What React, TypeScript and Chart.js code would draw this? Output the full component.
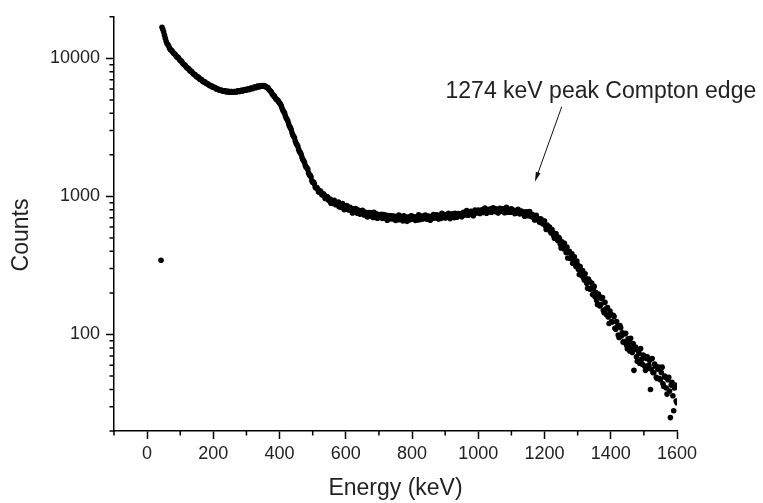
import { useEffect, useRef } from "react";
import { Chart, registerables } from "chart.js";

Chart.register(...registerables);

// Gamma spectrum: counts per channel, channels 2.5 keV wide starting at 45 keV
const CHANNEL_KEV_START = 45;
const CHANNEL_KEV_WIDTH = 2.5;

// one row per 100 keV (40 channels)
const COUNTS = [
  16800, 16200, 15500, 14700, 14000, 13300, 12800, 12600, 12300, 11900, 11600, 11500, 11350, 11100, 10900, 10800, 10650, 10400, 10250, 10200,
  10050, 9800, 9650, 9600, 9450, 9200, 9050, 9000, 8900, 8700, 8550, 8520, 8450, 8250, 8100, 8080, 8000, 7820, 7700, 7680,
  7600, 7450, 7350, 7340, 7280, 7130, 7050, 7040, 6980, 6840, 6760, 6770, 6730, 6600, 6540, 6550, 6500, 6390, 6340, 6350,
  6310, 6200, 6160, 6180, 6150, 6040, 5990, 6010, 5980, 5900, 5870, 5900, 5880, 5800, 5780, 5820, 5810, 5740, 5730, 5770,
  5770, 5700, 5690, 5750, 5740, 5680, 5690, 5760, 5760, 5700, 5720, 5800, 5810, 5750, 5770, 5850, 5860, 5800, 5830, 5920,
  5940, 5870, 5890, 5990, 6000, 5940, 5970, 6080, 6090, 6030, 6070, 6180, 6190, 6130, 6180, 6280, 6290, 6220, 6260, 6340,
  6350, 6280, 6290, 6360, 6330, 6230, 6190, 6180, 6110, 5980, 5870, 5800, 5710, 5540, 5420, 5370, 5280, 5140, 5050, 5020,
  4960, 4830, 4750, 4660, 4530, 4350, 4200, 4120, 4010, 3830, 3700, 3620, 3510, 3340, 3220, 3150, 3050, 2890, 2780, 2730,
  2650, 2510, 2420, 2380, 2310, 2190, 2110, 2080, 2020, 1920, 1850, 1820, 1770, 1680, 1630, 1610, 1570, 1480, 1430, 1420,
  1380, 1300, 1260, 1270, 1235, 1170, 1150, 1160, 1130, 1080, 1070, 1100, 1075, 1030, 1025, 1045, 1020, 965, 975, 1000,
  989, 941, 936, 958, 893, 926, 933, 889, 938, 905, 872, 898, 878, 912, 840, 869, 865, 832, 888, 851,
  803, 842, 820, 858, 845, 800, 796, 833, 821, 786, 758, 812, 799, 770, 816, 779, 756, 797, 773, 745,
  752, 781, 792, 748, 734, 770, 760, 731, 710, 757, 765, 722, 739, 760, 728, 704, 768, 741, 712, 750,
  695, 729, 735, 703, 725, 741, 694, 718, 740, 697, 703, 731, 673, 708, 727, 690, 718, 723, 688, 712,
  721, 686, 671, 712, 705, 679, 732, 701, 682, 716, 688, 665, 723, 695, 674, 710, 660, 699, 709, 678,
  696, 724, 718, 683, 684, 711, 671, 690, 707, 676, 736, 702, 681, 719, 717, 686, 697, 725, 733, 692,
  685, 712, 721, 690, 673, 716, 717, 695, 739, 708, 698, 725, 735, 701, 686, 720, 717, 694, 754, 722,
  713, 738, 699, 727, 737, 703, 754, 731, 691, 719, 736, 748, 716, 702, 755, 733, 706, 741, 753, 727,
  747, 726, 713, 752, 768, 737, 734, 765, 790, 748, 732, 769, 758, 781, 776, 745, 726, 772, 798, 760,
  762, 788, 796, 757, 753, 790, 787, 805, 766, 774, 823, 788, 755, 801, 804, 772, 790, 812, 768, 798,
  826, 784, 779, 812, 804, 770, 757, 805, 821, 783, 789, 815, 812, 771, 763, 801, 834, 790, 768, 806,
  790, 768, 812, 782, 769, 795, 751, 780, 787, 760, 806, 775, 748, 778, 782, 752, 754, 771, 719, 748,
  775, 741, 724, 756, 776, 730, 716, 741, 729, 701, 676, 715, 729, 688, 689, 668, 649, 690, 682, 645,
  634, 662, 663, 612, 577, 620, 608, 575, 601, 560, 543, 575, 547, 520, 498, 538, 536, 495, 479, 505,
  496, 452, 424, 470, 449, 418, 458, 426, 392, 430, 358, 395, 401, 356, 363, 384, 328, 349, 365, 322,
  311, 341, 320, 296, 272, 310, 293, 268, 291, 259, 248, 275, 253, 235, 216, 252, 244, 213, 217, 236,
  195, 214, 223, 188, 201, 176, 165, 196, 190, 161, 165, 182, 185, 150, 144, 171, 153, 139, 157, 134,
  120, 148, 140, 124, 123, 138, 135, 111, 109, 124, 114, 99, 95, 116, 112, 98, 103, 88, 89, 101,
  102, 84, 79, 93, 88, 76, 94, 82, 74, 86, 55, 78, 81, 69, 64, 77, 73, 62, 79, 66,
  61, 71, 70, 59, 55, 67, 69, 57, 60, 65, 40, 56, 67, 53, 53, 61, 59, 49, 48, 56,
  58, 48, 47, 53, 58, 44, 42, 50, 49, 41, 37, 47, 49, 39, 25, 43, 45, 36, 28, 41,
  43, 33, 32,
];

// A single low-energy channel sitting below the spectrum
const STRAY_ENERGY = [42];
const STRAY_COUNTS = [345];

const X_MAJOR_TICKS = [0, 200, 400, 600, 800, 1000, 1200, 1400, 1600];
const X_MINOR_TICKS = [-100, 100, 300, 500, 700, 900, 1100, 1300, 1500];
const Y_MAJOR_TICKS = [100, 1000, 10000];
const Y_MINOR_TICKS = [
  20, 30, 40, 50, 60, 70, 80, 90,
  200, 300, 400, 500, 600, 700, 800, 900,
  2000, 3000, 4000, 5000, 6000, 7000, 8000, 9000,
  20000,
];

// Annotation anchored in data coordinates (keV, counts)
const NOTE_TEXT = "1274 keV peak Compton edge";
const NOTE_TEXT_AT = [901, 5180];
const NOTE_ARROW_FROM = [1252, 4470];
const NOTE_ARROW_TO = [1171, 1280];

const FONT = "'Liberation Sans', Arial, sans-serif";
const TEXT_COLOR = "#222";
const TITLE_SIZE = 23;

const spectrumPoints = COUNTS.map((c, i) => ({
  x: CHANNEL_KEV_START + i * CHANNEL_KEV_WIDTH,
  y: c,
}));
const strayPoints = STRAY_ENERGY.map((e, i) => ({ x: e, y: STRAY_COUNTS[i] }));

const decorations = {
  id: "decorations",
  afterDraw(chart: any) {
    const { ctx, chartArea, scales } = chart;
    const xs = scales.x;
    const ys = scales.y;
    ctx.save();

    // minor tick marks
    ctx.strokeStyle = "#000";
    ctx.lineWidth = 1.5;
    ctx.beginPath();
    for (const v of Y_MINOR_TICKS) {
      const py = ys.getPixelForValue(v);
      ctx.moveTo(chartArea.left - 4.5, py);
      ctx.lineTo(chartArea.left, py);
    }
    for (const v of X_MINOR_TICKS) {
      const px = xs.getPixelForValue(v);
      ctx.moveTo(px, chartArea.bottom);
      ctx.lineTo(px, chartArea.bottom + 4.5);
    }
    ctx.stroke();

    // axis titles
    ctx.fillStyle = TEXT_COLOR;
    ctx.font = `${TITLE_SIZE}px ${FONT}`;
    ctx.textAlign = "center";
    ctx.textBaseline = "middle";
    ctx.fillText("Energy (keV)", (chartArea.left + chartArea.right) / 2, 489);
    ctx.save();
    ctx.translate(22, 235);
    ctx.rotate(-Math.PI / 2);
    ctx.fillText("Counts", 0, 0);
    ctx.restore();

    // annotation text and arrow
    ctx.textAlign = "left";
    ctx.textBaseline = "alphabetic";
    ctx.fillText(
      NOTE_TEXT,
      xs.getPixelForValue(NOTE_TEXT_AT[0]),
      ys.getPixelForValue(NOTE_TEXT_AT[1])
    );
    const x0 = xs.getPixelForValue(NOTE_ARROW_FROM[0]);
    const y0 = ys.getPixelForValue(NOTE_ARROW_FROM[1]);
    const x1 = xs.getPixelForValue(NOTE_ARROW_TO[0]);
    const y1 = ys.getPixelForValue(NOTE_ARROW_TO[1]);
    const ang = Math.atan2(y1 - y0, x1 - x0);
    const head = 10;
    ctx.strokeStyle = "#111";
    ctx.lineWidth = 1;
    ctx.beginPath();
    ctx.moveTo(x0, y0);
    ctx.lineTo(x1 - Math.cos(ang) * head * 0.8, y1 - Math.sin(ang) * head * 0.8);
    ctx.stroke();
    ctx.fillStyle = "#111";
    ctx.beginPath();
    ctx.moveTo(x1, y1);
    ctx.lineTo(x1 - head * Math.cos(ang - 0.25), y1 - head * Math.sin(ang - 0.25));
    ctx.lineTo(x1 - head * Math.cos(ang + 0.25), y1 - head * Math.sin(ang + 0.25));
    ctx.closePath();
    ctx.fill();

    ctx.restore();
  },
};

export default function App() {
  const canvasRef = useRef<HTMLCanvasElement | null>(null);

  useEffect(() => {
    const canvas = canvasRef.current;
    if (!canvas) return;
    const pointStyle = {
      backgroundColor: "#000",
      borderWidth: 0,
      pointRadius: 2.8,
      pointHoverRadius: 2.8,
    };
    const chart = new Chart(canvas, {
      type: "scatter",
      data: {
        datasets: [
          { data: spectrumPoints, ...pointStyle },
          { data: strayPoints, ...pointStyle },
        ],
      },
      options: {
        responsive: false,
        animation: false,
        devicePixelRatio: 1,
        layout: { padding: { top: 12, right: 86, left: 0, bottom: 0 } },
        plugins: {
          legend: { display: false },
          tooltip: { enabled: false },
          title: { display: false },
        },
        scales: {
          x: {
            type: "linear",
            min: -100,
            max: 1600,
            afterBuildTicks: (s: any) => {
              s.ticks = X_MAJOR_TICKS.map((v) => ({ value: v }));
            },
            afterFit: (s: any) => {
              s.height = 72;
            },
            grid: {
              display: true,
              drawOnChartArea: false,
              drawTicks: true,
              tickLength: 8,
              tickWidth: 1.5,
              tickColor: "#000",
              color: "#000",
            },
            border: { display: true, color: "#000", width: 1.5 },
            ticks: {
              color: TEXT_COLOR,
              font: { family: FONT, size: 18 },
              padding: 4,
              maxRotation: 0,
              autoSkip: false,
              callback: (v: any) => String(v),
            },
          },
          y: {
            type: "logarithmic",
            min: 20,
            max: 20000,
            afterBuildTicks: (s: any) => {
              s.ticks = Y_MAJOR_TICKS.map((v) => ({ value: v }));
            },
            afterFit: (s: any) => {
              s.width = 114;
            },
            grid: {
              display: true,
              drawOnChartArea: false,
              drawTicks: true,
              tickLength: 8,
              tickWidth: 1.5,
              tickColor: "#000",
              color: "#000",
            },
            border: { display: true, color: "#000", width: 1.5 },
            ticks: {
              color: TEXT_COLOR,
              font: { family: FONT, size: 18 },
              padding: 6,
              autoSkip: false,
              callback: (v: any) => String(v),
            },
          },
        },
      },
      plugins: [decorations],
    });
    return () => chart.destroy();
  }, []);

  return (
    <div style={{ position: "absolute", left: 0, top: 0, width: 763, height: 503, background: "#fff" }}>
      <canvas ref={canvasRef} width={763} height={503} style={{ display: "block", width: 763, height: 503 }} />
    </div>
  );
}
